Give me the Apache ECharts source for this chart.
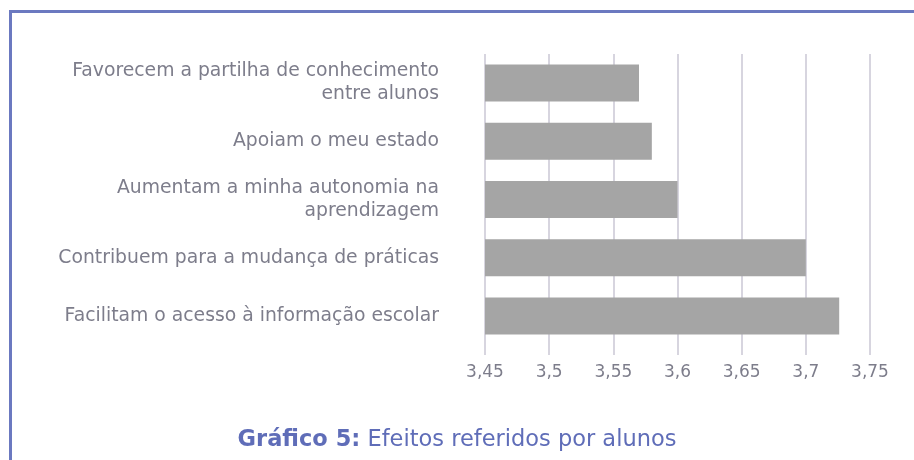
<!DOCTYPE html>
<html>
<head>
<meta charset="utf-8">
<script src="https://cdn.jsdelivr.net/npm/echarts@6/dist/echarts.min.js"></script>
<style>
    html, body { margin: 0; padding: 0; background: #fff; }
    #chart { width: 914px; height: 460px; }
</style>
</head>
<body>
<div id="chart"></div>
<script>
// categories top to bottom
const categories = [
    'Favorecem a partilha de conhecimento\nentre alunos',
    'Apoiam o meu estado',
    'Aumentam a minha autonomia na\naprendizagem',
    'Contribuem para a mudança de práticas',
    'Facilitam o acesso à informação escolar'
]
const values = [3.57, 3.58, 3.6, 3.7, 3.726]
const frameColor = '#6b79c0'
const gridColor = '#d7d5df'
const textFont = 'DejaVu Sans'

const chart = echarts.init(document.getElementById('chart'))
const option = {
    animation: false,
    title: {
        text: '{b|Gráfico 5:} Efeitos referidos por alunos',
        left: 'center',
        top: 424,
        textStyle: {
            color: '#5f6db8',
            fontFamily: textFont,
            fontSize: 22.5,
            fontWeight: 'normal',
            rich: {
                b: { color: '#5f6db8', fontFamily: textFont, fontSize: 22.5, fontWeight: 'bold' }
            }
        }
    },
    graphic: [
        { type: 'rect', shape: { x: 9, y: 10, width: 905, height: 3 }, style: { fill: frameColor } },
        { type: 'rect', shape: { x: 9, y: 10, width: 3, height: 450 }, style: { fill: frameColor } }
    ],
    grid: {
        left: 485,
        right: 44,
        top: 54,
        height: 291
    },
    xAxis: {
        type: 'value',
        min: 3.45,
        max: 3.75,
        interval: 0.05,
        axisLine: { show: false },
        axisTick: {
            show: true,
            length: 10,
            lineStyle: { color: gridColor, width: 2 }
        },
        splitLine: {
            show: true,
            lineStyle: { color: gridColor, width: 2 }
        },
        axisLabel: {
            margin: 19,
            color: '#7d7d8b',
            fontFamily: textFont,
            fontSize: 17,
            formatter: v => String(Math.round(v * 100) / 100).replace('.', ',')
        }
    },
    yAxis: {
        type: 'category',
        inverse: true,
        data: categories,
        axisLine: { show: false },
        axisTick: { show: false },
        axisLabel: {
            margin: 46,
            color: '#7d7d8b',
            fontFamily: textFont,
            fontSize: 18.8,
            lineHeight: 23,
            align: 'right'
        }
    },
    series: [{
        type: 'bar',
        data: values,
        barWidth: 37,
        itemStyle: { color: '#a5a5a5' }
    }]
}
chart.setOption(option)
</script>
</body>
</html>
